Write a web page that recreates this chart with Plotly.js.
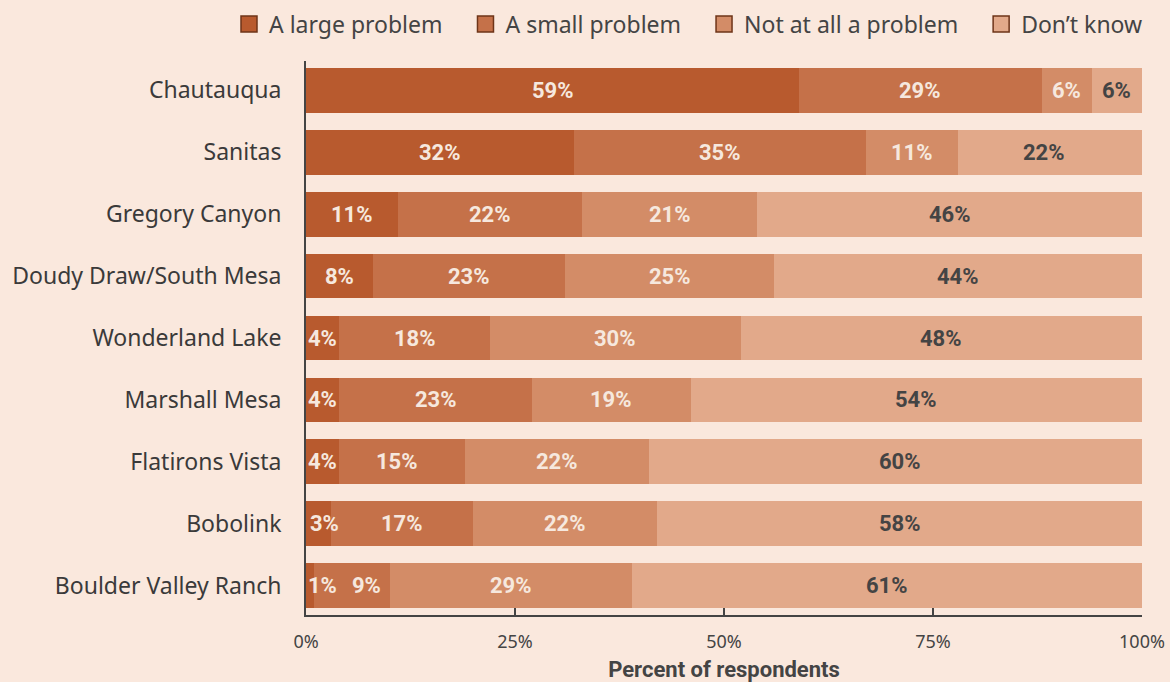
<!DOCTYPE html>
<html>
<head>
<meta charset="utf-8">
<script src="https://cdn.plot.ly/plotly-3.0.1.min.js"></script>
<style>
html,body{margin:0;padding:0;background:#fae8dd;}
#chart{width:1170px;height:682px;}
</style>
</head>
<body>
<div id="chart"></div>
<script>
const categories = ["Chautauqua","Sanitas","Gregory Canyon","Doudy Draw/South Mesa","Wonderland Lake","Marshall Mesa","Flatirons Vista","Bobolink","Boulder Valley Ranch"];
const seriesNames = ["A large problem","A small problem","Not at all a problem","Don\u2019t know"];
const largeProblem = [59,32,11,8,4,4,4,3,1];
const smallProblem = [29,35,22,23,18,23,15,17,9];
const notAtAll = [6,11,21,25,30,19,22,22,29];
const dontKnow = [6,22,46,44,48,54,60,58,61];
const colors = ["#b85a2e","#c57149","#d38c67","#e2a98a"];
const labelColors = ["#f6e8de","#f6e8de","#f6e8de","#444444"];
const tickVals = [0,25,50,75,100];
const tickText = ["0%","25%","50%","75%","100%"];
// small nudges (px) for labels in crowded segments
const labelNudge = {"8-0": 12, "8-1": 15, "7-0": 6, "6-1": -5, "1-3": -6};

const series = [largeProblem, smallProblem, notAtAll, dontKnow];
const FONT = "Roboto, 'Noto Sans', sans-serif";
const CAT_FONT = "'Noto Sans', Roboto, sans-serif";
const PAD = "\u00a0\u00a0\u00a0";

const traces = series.map((vals, si) => ({
  type: "bar",
  orientation: "h",
  name: seriesNames[si],
  y: categories,
  x: vals,
  marker: {color: colors[si], line: {width: 0}},
  showlegend: false,
  hoverinfo: "x+y+name"
}));
// legend entries (square swatches)
series.forEach((vals, si) => {
  traces.push({
    type: "scatter",
    mode: "markers",
    name: seriesNames[si] + (si < series.length - 1 ? PAD : ""),
    x: [null], y: [null],
    marker: {symbol: "square", size: 16, color: colors[si], line: {color: "#6e3418", width: 1.5}},
    showlegend: true,
    hoverinfo: "skip"
  });
});

const annotations = [];
categories.forEach((cat, ci) => {
  let cum = 0;
  series.forEach((vals, si) => {
    const v = vals[ci];
    annotations.push({
      x: cum + v / 2,
      y: cat,
      xref: "x", yref: "y",
      text: "<b>" + v + "%</b>",
      showarrow: false,
      xshift: labelNudge[ci + "-" + si] || 0,
      font: {family: FONT, size: 22, color: labelColors[si]}
    });
    cum += v;
  });
});

const layout = {
  width: 1170, height: 682,
  paper_bgcolor: "#fae8dd",
  plot_bgcolor: "#fae8dd",
  barmode: "stack",
  bargap: 0.275,
  margin: {l: 306, r: 28, t: 61, b: 67, pad: 0, autoexpand: false},
  font: {family: FONT, color: "#444444"},
  showlegend: true,
  legend: {
    orientation: "h",
    x: (229 - 306) / 836, xanchor: "left",
    y: (615 - 24) / 554, yanchor: "middle",
    yref: "paper",
    xref: "paper",
    font: {family: CAT_FONT, size: 23, color: "#444444"},
    traceorder: "normal",
    itemwidth: 30,
    bgcolor: "rgba(0,0,0,0)"
  },
  xaxis: {
    range: [0, 100],
    tickvals: tickVals,
    ticktext: tickText,
    ticks: "inside",
    ticklen: 7,
    tickwidth: 2,
    tickcolor: "#444444",
    showline: true,
    linecolor: "#444444",
    linewidth: 2,
    showgrid: false,
    zeroline: false,
    ticklabelstandoff: 9,
    tickfont: {family: CAT_FONT, size: 18, color: "#444444"},
    title: {text: "<b>Percent of respondents</b>", font: {family: FONT, size: 22, color: "#444444"}, standoff: 10},
    fixedrange: true
  },
  yaxis: {
    type: "category",
    categoryorder: "array",
    categoryarray: categories,
    range: [8.47, -0.47],
    showline: true,
    linecolor: "#444444",
    linewidth: 2,
    ticks: "",
    showgrid: false,
    zeroline: false,
    ticksuffix: "   ",
    tickfont: {family: CAT_FONT, size: 23, color: "#3a3a3a"},
    fixedrange: true
  },
  annotations: annotations
};

Plotly.newPlot("chart", traces, layout, {displayModeBar: false, staticPlot: true});
</script>
</body>
</html>
